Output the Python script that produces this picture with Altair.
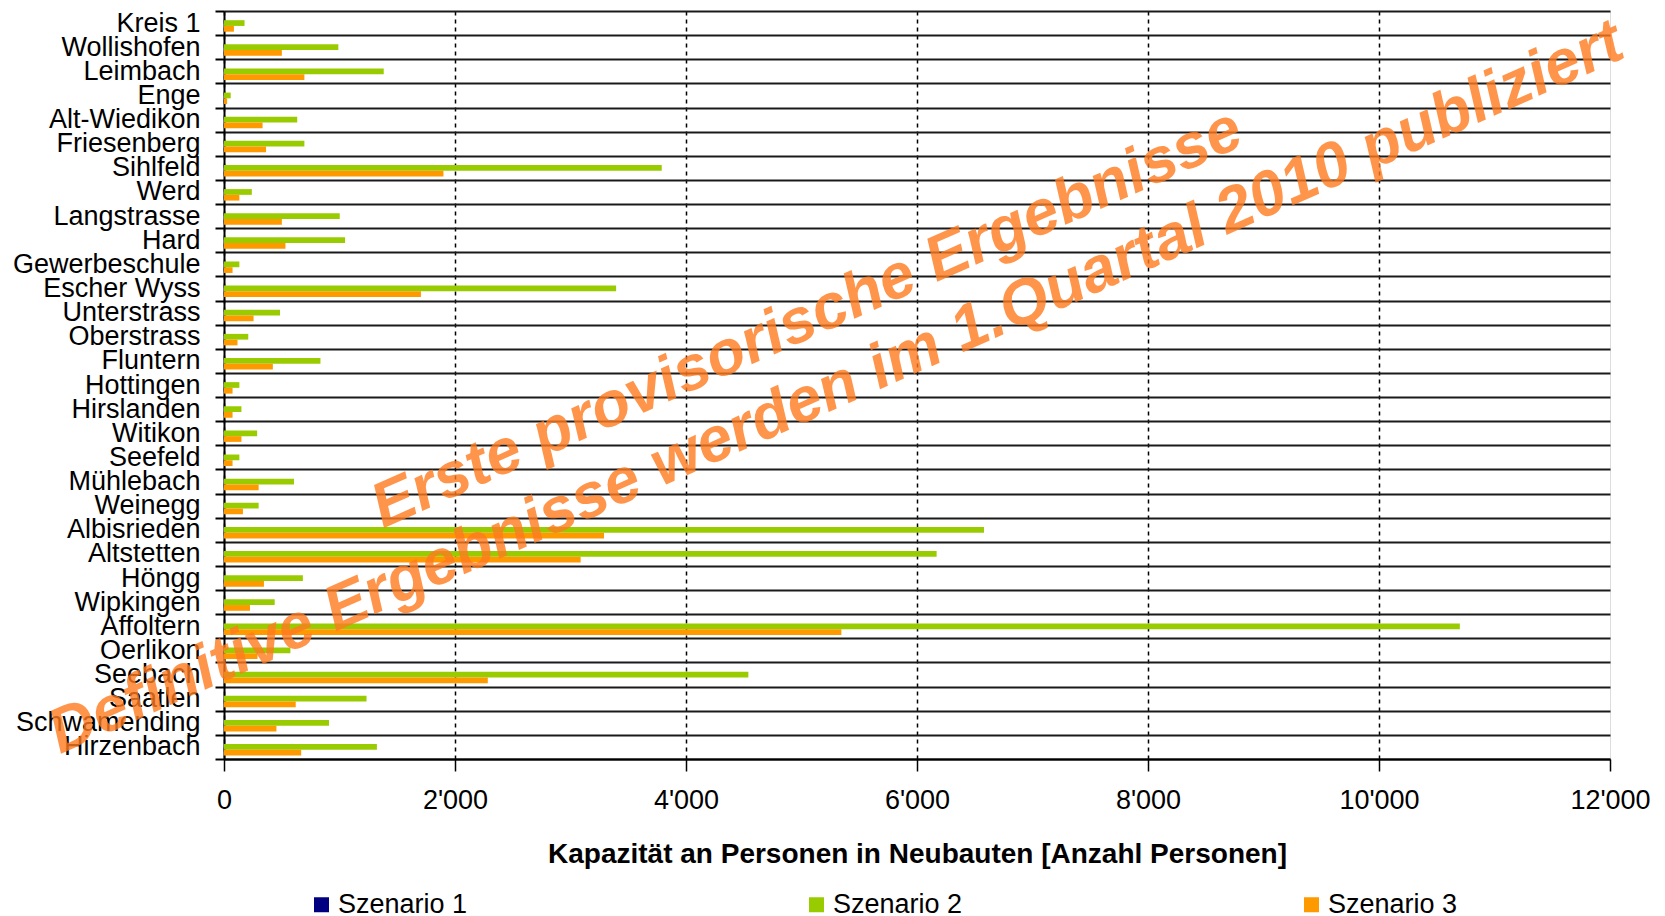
import altair as alt
import pandas as pd

districts = ["Kreis 1", "Wollishofen", "Leimbach", "Enge", "Alt-Wiedikon", "Friesenberg",
             "Sihlfeld", "Werd", "Langstrasse", "Hard", "Gewerbeschule", "Escher Wyss",
             "Unterstrass", "Oberstrass", "Fluntern", "Hottingen", "Hirslanden", "Witikon",
             "Seefeld", "Mühlebach", "Weinegg", "Albisrieden", "Altstetten", "Höngg",
             "Wipkingen", "Affoltern", "Oerlikon", "Seebach", "Saatlen", "Schwamending",
             "Hirzenbach"]

szenario1 = [0] * len(districts)
szenario2 = [178, 990, 1383, 58, 634, 696, 3790, 241, 1002, 1048, 133, 3395, 485, 210, 835,
             133, 151, 287, 133, 606, 300, 6580, 6170, 683, 439, 10700, 575, 4540, 1234, 909,
             1324]
szenario3 = [86, 501, 696, 27, 334, 364, 1900, 133, 501, 532, 74, 1705, 256, 117, 423,
             74, 74, 151, 74, 300, 164, 3290, 3088, 346, 225, 5345, 290, 2284, 621, 454,
             668]

series = ["Szenario 1", "Szenario 2", "Szenario 3"]
colors = ["#000080", "#99CC00", "#FF9900"]
x_ticks = [0, 2000, 4000, 6000, 8000, 10000, 12000]
x_title = "Kapazität an Personen in Neubauten [Anzahl Personen]"
watermark1 = "Erste provisorische Ergebnisse"
watermark2 = "Definitive Ergebnisse werden im 1.Quartal 2010 publiziert"

rows = []
for name, vals in zip(series, [szenario1, szenario2, szenario3]):
    for d, v in zip(districts, vals):
        rows.append({"Quartier": d, "Szenario": name, "Wert": v})
df = pd.DataFrame(rows)

W, H = 1386, 748
FONT = "Liberation Sans"

bars = alt.Chart(df).mark_bar().encode(
    x=alt.X("Wert:Q",
            scale=alt.Scale(domain=[0, 12000], nice=False),
            axis=alt.Axis(values=x_ticks, title=x_title,
                          labelExpr="replace(format(datum.value, ','), ',', \"'\")",
                          labelFlush=False, labelOverlap=False,
                          grid=True, gridDash=[4, 4], gridColor="black", gridWidth=1.5,
                          gridOpacity={"condition": {"test": "datum.value === 12000", "value": 0}, "value": 1},
                          domainColor="black", domainWidth=2,
                          tickColor="black", tickSize=12, tickWidth=1.5,
                          labelFontSize=27, labelColor="black", labelPadding=16,
                          labelFont=FONT,
                          titleFontSize=28, titleFontWeight="bold", titleColor="black",
                          titlePadding=27, titleFont=FONT)),
    y=alt.Y("Quartier:N", sort=districts,
            scale=alt.Scale(paddingInner=0, paddingOuter=0),
            axis=alt.Axis(title=None, tickBand="extent", grid=True,
                          gridColor="#1a1a1a", gridWidth=2,
                          tickColor="black", tickSize=9, tickWidth=2,
                          domainColor="black", domainWidth=2,
                          labelFontSize=27, labelColor="black", labelPadding=15,
                          labelFont=FONT, labelLimit=400)),
    yOffset=alt.YOffset("Szenario:N", sort=series,
                        scale=alt.Scale(paddingOuter=0.6, paddingInner=0)),
    color=alt.Color("Szenario:N", sort=series,
                    scale=alt.Scale(domain=series, range=colors),
                    legend=alt.Legend(title=None, orient="none", legendX=84, legendY=880,
                                      direction="horizontal", symbolType="square",
                                      symbolSize=225, symbolStrokeWidth=0,
                                      labelFontSize=27, labelFont=FONT, labelColor="black",
                                      labelOffset=3, columnPadding=335)),
)

wm1 = alt.Chart(alt.InlineData(values=[{"t": watermark1}])).mark_text(
    angle=336, font=FONT, fontSize=63, fontWeight="bold", fontStyle="italic",
    color="#FF7A1F", opacity=0.8, align="center", baseline="middle", clip=False
).encode(x=alt.value(583), y=alt.value(308), text="t:N")

wm2 = alt.Chart(alt.InlineData(values=[{"t": watermark2}])).mark_text(
    angle=336, font=FONT, fontSize=63, fontWeight="bold", fontStyle="italic",
    color="#FF7A1F", opacity=0.8, align="center", baseline="middle", clip=False
).encode(x=alt.value(612), y=alt.value(377), text="t:N")

chart = alt.layer(bars, wm1, wm2).properties(
    width=W, height=H,
    autosize=alt.AutoSizeParams(type="none"),
    padding={"left": 216, "top": 3, "right": 45, "bottom": 160},
).configure_view(stroke="#999999", strokeWidth=1.5).configure(font=FONT)

chart.save("out.html", embed_options={"renderer": "svg", "actions": False})
